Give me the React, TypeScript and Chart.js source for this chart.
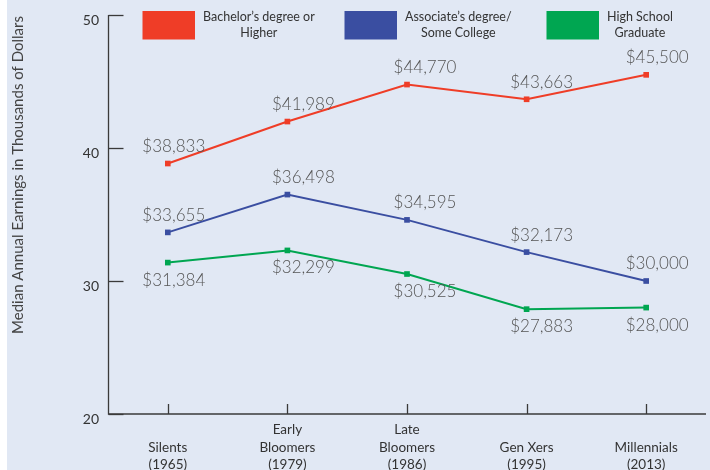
import React, { useEffect, useRef } from 'react';
import { Chart, registerables } from 'chart.js';

Chart.register(...registerables);

// ---- data ----
const categories: string[][] = [
  ['', 'Silents', '(1965)'],
  ['Early', 'Bloomers', '(1979)'],
  ['Late', 'Bloomers', '(1986)'],
  ['', 'Gen Xers', '(1995)'],
  ['', 'Millennials', '(2013)'],
];
const bachelorValues = [38.833, 41.989, 44.77, 43.663, 45.5];
const associateValues = [33.655, 36.498, 34.595, 32.173, 30.0];
const highSchoolValues = [31.384, 32.299, 30.525, 27.883, 28.0];

const bachelorLegend = ['Bachelor\u2019s degree or', 'Higher'];
const associateLegend = ['Associate\u2019s degree/', 'Some College'];
const highSchoolLegend = ['High School', 'Graduate'];

const bachelorPlacement = ['above', 'above', 'above', 'above', 'above'];
const associatePlacement = ['above', 'above', 'above', 'above', 'above'];
const highSchoolPlacement = ['below', 'below', 'below', 'below', 'below'];

const yMin = 20;
const yMax = 50;
const yStep = 10;

const yTitle = 'Median Annual Earnings in Thousands of Dollars';

// ---- styles ----
const RED = '#EF3D27';
const BLUE = '#3A4EA1';
const GREEN = '#00A651';
const BG = '#E1E8F4';
const AXIS = '#3a3a3a';
const FONT = 'Lato, "Open Sans", "DejaVu Sans", sans-serif';
const labelShiftX = [6, 16, 18, 15, 11];

const fmt = (v: number) => '$' + Math.round(v * 1000).toLocaleString('en-US');

const decorPlugin = {
  id: 'decor',
  afterDatasetsDraw(chart: any) {
    const { ctx, chartArea: ca, scales } = chart;
    const x = scales.x;
    const y = scales.y;
    ctx.save();
    // axes
    ctx.strokeStyle = AXIS;
    ctx.lineWidth = 1.3;
    const ax = Math.round(ca.left) + 0.5;
    const yTop = y.getPixelForValue(yMax);
    const yBot = y.getPixelForValue(yMin);
    ctx.beginPath();
    ctx.moveTo(ax, yTop);
    ctx.lineTo(ax, yBot);
    ctx.lineTo(ca.right, yBot);
    ctx.stroke();
    // y ticks inward
    y.ticks.forEach((t: any) => {
      const py = Math.round(y.getPixelForValue(t.value)) + 0.5;
      ctx.beginPath();
      ctx.moveTo(ax, py);
      ctx.lineTo(ax + 15, py);
      ctx.stroke();
    });
    // x ticks upward
    categories.forEach((_, i) => {
      const px = Math.round(x.getPixelForValue(i)) + 0.5;
      ctx.beginPath();
      ctx.moveTo(px, yBot);
      ctx.lineTo(px, yBot - 10);
      ctx.stroke();
    });

    // y title
    ctx.save();
    ctx.translate(11, 175);
    ctx.rotate(-Math.PI / 2);
    ctx.fillStyle = '#444';
    ctx.font = `15px ${FONT}`;
    ctx.textAlign = 'center';
    ctx.textBaseline = 'middle';
    ctx.fillText(yTitle, 0, 0);
    ctx.restore();

    // legend
    ctx.font = `12.5px ${FONT}`;
    ctx.textBaseline = 'middle';
    ctx.textAlign = 'center';
    chart.data.datasets.forEach((ds: any, i: number) => {
      const bx = 135.5 + i * 202;
      ctx.fillStyle = ds.borderColor;
      ctx.fillRect(bx, 11, 52.5, 28.5);
      const lines: string[] = ds.legendLines;
      const w = Math.max(...lines.map((l) => ctx.measureText(l).width));
      const cx = bx + 52.5 + 8 + w / 2;
      ctx.fillStyle = '#333';
      lines.forEach((l, j) => ctx.fillText(l, cx, 16.5 + j * 16));
    });

    // data labels
    ctx.font = `300 17px ${FONT}`;
    ctx.fillStyle = '#555';
    ctx.textAlign = 'center';
    ctx.textBaseline = 'middle';
    chart.data.datasets.forEach((ds: any, di: number) => {
      const meta = chart.getDatasetMeta(di);
      meta.data.forEach((pt: any, i: number) => {
        const dy = ds.placement[i] === 'above' ? -17 : 17.5;
        ctx.fillText(fmt(ds.data[i]), pt.x + labelShiftX[i], pt.y + dy);
      });
    });
    ctx.restore();
  },
};

export default function App() {
  const ref = useRef<HTMLCanvasElement | null>(null);
  useEffect(() => {
    if (!ref.current) return;
    const mk = (label: string, data: number[], color: string, legendLines: string[], placement: string[]) => ({
      label,
      data,
      borderColor: color,
      backgroundColor: color,
      pointBackgroundColor: color,
      pointBorderWidth: 0,
      pointStyle: 'rect',
      pointRadius: 4,
      borderWidth: 2,
      tension: 0,
      legendLines,
      placement,
    });
    const chart = new Chart(ref.current, {
      type: 'line',
      data: {
        labels: categories,
        datasets: [
          mk('Bachelor\u2019s degree or Higher', bachelorValues, RED, bachelorLegend, bachelorPlacement),
          mk('Associate\u2019s degree/Some College', associateValues, BLUE, associateLegend, associatePlacement),
          mk('High School Graduate', highSchoolValues, GREEN, highSchoolLegend, highSchoolPlacement),
        ] as any,
      },
      options: {
        animation: false,
        responsive: false,
        layout: { padding: { top: 15, right: 0, bottom: 0, left: 0 } },
        plugins: { legend: { display: false }, tooltip: { enabled: false } },
        scales: {
          x: {
            offset: true,
            grid: { display: false, drawTicks: false },
            border: { display: false },
            ticks: {
              color: '#333',
              font: { family: FONT, size: 13.5, lineHeight: 1.3 },
              padding: 7,
              maxRotation: 0,
              autoSkip: false,
            },
            afterFit: (s: any) => {
              s.height = 56;
              s.paddingLeft = 0;
              s.paddingRight = 0;
            },
          },
          y: {
            min: yMin,
            max: yMax,
            grid: { display: false, drawTicks: false },
            border: { display: false },
            ticks: {
              stepSize: yStep,
              color: '#333',
              font: { family: FONT, size: 14 },
              padding: 9,
              labelOffset: 5,
            },
            afterFit: (s: any) => {
              s.width = 101;
              s.paddingTop = 0;
              s.paddingBottom = 0;
            },
          },
        },
      },
      plugins: [decorPlugin],
    });
    return () => chart.destroy();
  }, []);
  return (
    <div style={{ position: 'fixed', left: 7, top: 0, width: 703, height: 470, background: BG }}>
      <canvas ref={ref} width={703} height={470} style={{ display: 'block', width: 703, height: 470 }} />
    </div>
  );
}
